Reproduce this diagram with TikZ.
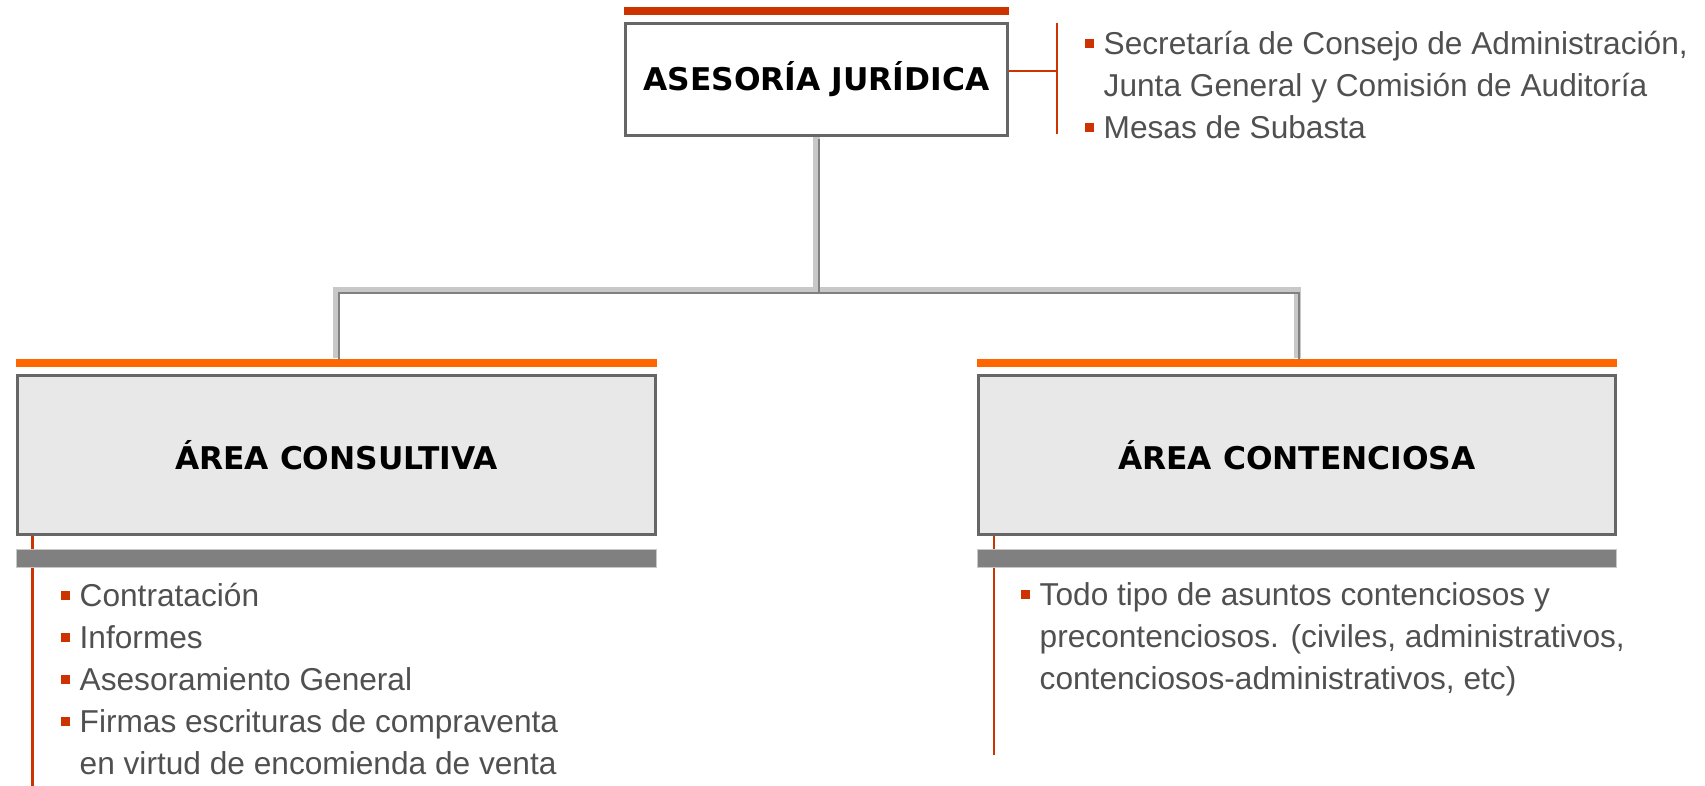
\documentclass[tikz,border=0pt]{standalone}
\usepackage{fontspec}
\setmainfont{Liberation Sans}
\newfontfamily\boxfont{DejaVu Sans}
\usepackage{xcolor}
\usetikzlibrary{positioning,calc}

\definecolor{barred}{HTML}{CC3300}
\definecolor{barorange}{HTML}{FF6600}
\definecolor{bargray}{HTML}{808080}
\definecolor{boxfill}{HTML}{E8E8E8}
\definecolor{boxline}{HTML}{666666}
\definecolor{listgray}{HTML}{505050}
\definecolor{connlight}{HTML}{C8C8C8}

\newcommand{\bul}{\makebox[5.4pt][l]{\textcolor{barred}{\rule[1.8pt]{2.6pt}{2.6pt}}}}
\newcommand{\nobul}{\hspace*{5.4pt}}

\begin{document}
\begin{tikzpicture}[x=0.01cm, y=-0.01cm,
    unitbox/.style={draw=boxline, line width=0.03cm, fill=boxfill, inner sep=0pt,
        minimum height=1.59cm, font=\boxfont\bfseries\fontsize{8.9}{10.7}\selectfont},
    topbar/.style={fill=#1, inner sep=0pt, minimum height=0.08cm},
    footbar/.style={fill=bargray, draw=connlight, line width=0.01cm, inner sep=0pt, minimum height=0.18cm},
    redline/.style={draw=barred, line width=0.02cm},
    connouter/.style={draw=connlight, line width=0.07cm},
    conninner/.style={draw=bargray, line width=0.02cm, transform canvas={xshift=0.02cm, yshift=-0.02cm}},
    itemlist/.style={anchor=north west, inner sep=0pt, align=left, text=listgray,
        font=\fontsize{9}{11.95}\selectfont}]
    \useasboundingbox (0,0) rectangle (1705,786);

    % Asesoria Juridica
    \node[topbar=barred, minimum width=3.85cm] (topbar) at (816.5,11) {};
    \node[unitbox, fill=white, minimum width=3.82cm, minimum height=1.12cm] (top) at (816.5,79.5) {ASESORÍA JURÍDICA};

    % Areas
    \node[topbar=barorange, minimum width=6.41cm] (lbar) at (336.5,363) {};
    \node[unitbox, minimum width=6.38cm] (lbox) at (336.5,455) {ÁREA CONSULTIVA};
    \node[topbar=barorange, minimum width=6.40cm] (rbar) at (1297,363) {};
    \node[unitbox, minimum width=6.37cm] (rbox) at (1297,455) {ÁREA CONTENCIOSA};

    % Tree
    \coordinate (split) at (816.5,291);
    \draw[connouter] (top.south) -- (split) -| (lbar.north) (split) -| (rbar.north);
    \draw[conninner] (top.south) -- (split) -| (lbar.north) (split) -| (rbar.north);

    % Bracket
    \coordinate (brktop) at (1057,23);
    \coordinate (brkmid) at (1057,71);
    \coordinate (brkbot) at (1057,134);
    \draw[redline] (brktop) -- (brkbot);
    \draw[redline] (top.east |- brkmid) -- (brkmid);

    % Side lines
    \coordinate (lend) at (32.5,786);
    \coordinate (rend) at (993.5,755);
    \draw[redline] (lbox.south -| lend) -- (lend);
    \draw[redline] (rbox.south -| rend) -- (rend);

    % Foot bars
    \node[footbar, minimum width=6.40cm] (lfoot) at (336.5,558.5) {};
    \node[footbar, minimum width=6.39cm] (rfoot) at (1297,558.5) {};

    % Lists
    \node[itemlist] (toplist) at (1084,24.6) {\strut\bul Secretaría de Consejo de Administración,\\
        \nobul Junta General y Comisión de Auditoría\\
        \bul Mesas de Subasta};
    \node[itemlist] (llist) at (60,576.6) {\strut\bul Contratación\\
        \bul Informes\\
        \bul Asesoramiento General\\
        \bul Firmas escrituras de compraventa\\
        \nobul en virtud de encomienda de venta};
    \node[itemlist] (rlist) at (1020,575.6) {\strut\bul Todo tipo de asuntos contenciosos y\\
        \nobul precontenciosos. (civiles, administrativos,\\
        \nobul contenciosos-administrativos, etc)};
\end{tikzpicture}
\end{document}
